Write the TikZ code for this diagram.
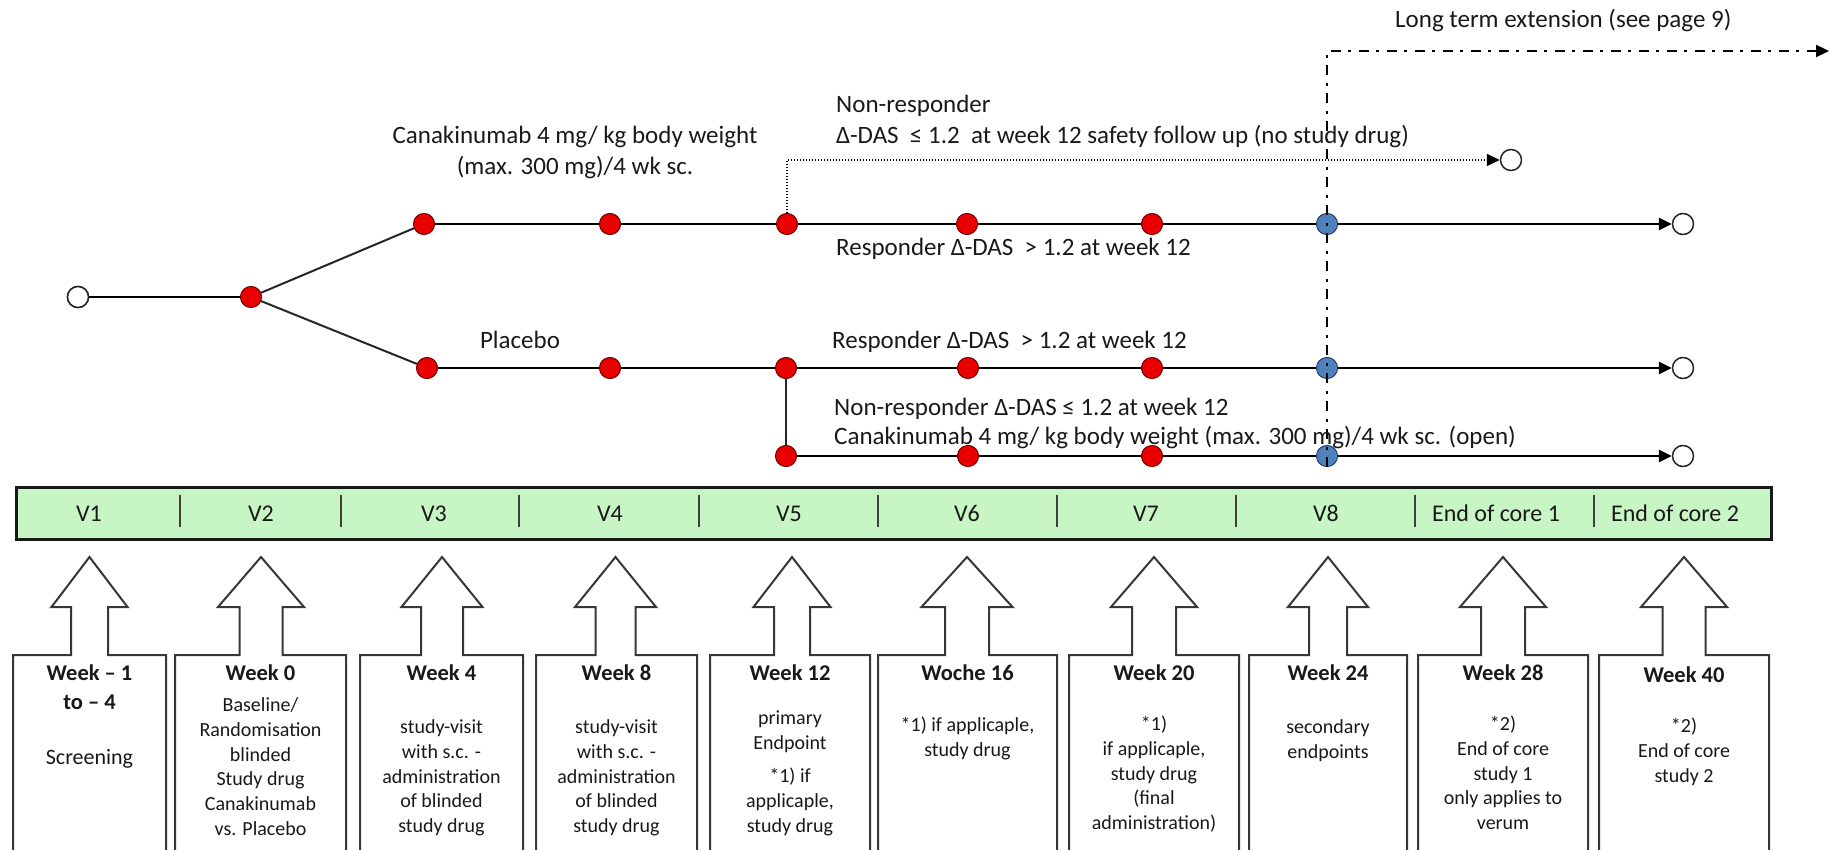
\documentclass[tikz,border=0pt]{standalone}
\usepackage{fontspec}
\setmainfont{Carlito}
\usetikzlibrary{arrows.meta}
\definecolor{barg}{RGB}{200,245,196}
\definecolor{dotred}{RGB}{232,0,0}
\definecolor{dotredd}{RGB}{110,0,0}
\definecolor{dotblue}{RGB}{79,129,189}
\definecolor{dotblued}{RGB}{35,60,100}
\definecolor{txt}{RGB}{25,25,25}
\definecolor{edge}{RGB}{55,55,55}
\newcommand\vbarrow[5]{%
  \draw[boxedge] (#1,853) -- (#1,655) -- ({#3-#5},655) -- ({#3-#5},607) -- ({#3-#4},607)
    -- (#3,557) -- ({#3+#4},607) -- ({#3+#5},607) -- ({#3+#5},655) -- (#2,655) -- (#2,853);}
\begin{document}
\begin{tikzpicture}[x=1pt,y=-1pt,
  rdot/.style={circle,draw=dotredd,fill=dotred,line width=0.8pt,minimum size=21pt,inner sep=0pt},
  bdot/.style={circle,draw=dotblued,fill=dotblue,line width=0.8pt,minimum size=21pt,inner sep=0pt},
  odot/.style={circle,draw=black!85,fill=white,line width=1.5pt,minimum size=21pt,inner sep=0pt},
  mainln/.style={draw=black,line width=2.9pt},
  slimln/.style={draw=black!85,line width=2pt},
  arr/.style={-{Triangle[length=13pt,width=12pt]}},
  dotln/.style={draw=black,line width=2pt,dash pattern=on 1.5pt off 1.5pt},
  ddln/.style={draw=black,line width=2.2pt,dash pattern=on 10pt off 7pt on 3pt off 8pt},
  lbl/.style={font=\fontsize{25}{31}\selectfont,text=txt,inner sep=0pt},
  barlbl/.style={font=\fontsize{24}{29}\selectfont,text=txt,inner sep=0pt,anchor=base},
  hd/.style={font=\bfseries\fontsize{22.5}{29}\selectfont,text=txt,inner sep=0pt,anchor=base},
  bd/.style={font=\fontsize{20}{24.7}\selectfont,text=txt,inner sep=0pt,anchor=north,align=center},
  boxedge/.style={draw=edge,line width=2pt,fill=white,line join=miter},
  divln/.style={draw=black!75,line width=1.3pt}
]
\useasboundingbox (0,0) rectangle (1830,850);

% ---------- upper flow ----------
\node[odot] (s0) at (78,297) {};
\node[rdot] (r0) at (251,297) {};
\foreach \n/\x in {t1/424,t2/610,t3/787,t4/967,t5/1152}{\node[rdot] (\n) at (\x,224) {};}
\node[bdot] (tb) at (1327,224) {};
\node[odot] (te) at (1683,224) {};
\foreach \n/\x in {p1/427,p2/610,p3/786,p4/968,p5/1152}{\node[rdot] (\n) at (\x,368) {};}
\node[bdot] (pb) at (1327,368) {};
\node[odot] (pe) at (1683,368) {};
\foreach \n/\x in {q3/786,q4/968,q5/1152}{\node[rdot] (\n) at (\x,456) {};}
\node[bdot] (qb) at (1327,456) {};
\node[odot] (qe) at (1683,456) {};
\node[odot] (de) at (1511,160) {};
\coordinate (ltc) at (1327,51);
\coordinate (lte) at (1829,51);

% lines (drawn, then dots redrawn on top)
\draw[mainln] (s0) -- (r0);
\draw[slimln] (r0) -- (t1);
\draw[slimln] (r0) -- (p1);
\draw[mainln] (t1) -- (t2) -- (t3) -- (t4) -- (t5) -- (tb);
\draw[mainln,arr] (tb) -- (te);
\draw[mainln] (p1) -- (p2) -- (p3) -- (p4) -- (p5) -- (pb);
\draw[mainln,arr] (pb) -- (pe);
\draw[slimln] (p3) -- (q3);
\draw[mainln] (q3) -- (q4) -- (q5) -- (qb);
\draw[mainln,arr] (qb) -- (qe);
\draw[dotln,arr] (t3.north) |- (de);

% redraw dots on top
\node[odot] at (s0) {};
\node[rdot] at (r0) {};
\foreach \n in {t1,t2,t3,t4,t5,p1,p2,p3,p4,p5,q3,q4,q5}{\node[rdot] at (\n) {};}
\foreach \n in {tb,pb,qb}{\node[bdot] at (\n) {};}

\draw[ddln,arr] (qb.south) -- (ltc) -- (lte);

% labels
\node[lbl,anchor=base west] (lt) at (1395,28) {Long term extension (see page 9)};
\node[lbl,anchor=base west] (nr1) at (836,113) {Non-responder};
\node[lbl,anchor=base west] (nr2) at (836,144) {Δ-DAS\ \ ≤ 1.2\ \ at week 12 safety follow up (no study drug)};
\node[lbl,anchor=base] (ca1) at (575,144) {Canakinumab 4 mg/ kg body weight};
\node[lbl,anchor=base] (ca2) at (575,175) {(max. 300 mg)/4 wk sc.};
\node[lbl,anchor=base west] (rs1) at (836,256) {Responder Δ-DAS\ \ > 1.2 at week 12};
\node[lbl,anchor=base] (pl) at (520,348) {Placebo};
\node[lbl,anchor=base west] (rs2) at (832,348) {Responder Δ-DAS\ \ > 1.2 at week 12};
\node[lbl,anchor=base west] (nr3) at (834,415) {Non-responder Δ-DAS ≤ 1.2 at week 12};
\node[lbl,anchor=base west] (ca3) at (834,444) {Canakinumab 4 mg/ kg body weight (max. 300 mg)/4 wk sc. (open)};

% ---------- visit bar ----------
\draw[line width=3pt,draw=black!90,fill=barg] (16,487) rectangle (1771,539);
\foreach \x in {180,341,519,699,878,1057,1236,1415,1594}{\draw[divln] (\x,495) -- (\x,527);}
\foreach \n/\x/\t in {v1/89/V1,v2/261/V2,v3/434/V3,v4/610/V4,v5/789/V5,v6/967/V6,v7/1146/V7,v8/1326/V8,v9/1496/End of core 1,v10/1675/End of core 2}{
  \node[barlbl] (\n) at (\x,521) {\t};}

% ---------- arrows + boxes ----------
\vbarrow{13}{166}{89.5}{38}{18.5}
\vbarrow{175}{346}{261}{43}{21.5}
\vbarrow{360}{523}{442}{40.5}{21}
\vbarrow{536}{697}{615.5}{40.5}{20}
\vbarrow{710}{870}{792}{38.5}{18}
\vbarrow{878}{1057}{967}{45.5}{22}
\vbarrow{1069}{1239}{1154}{43}{22}
\vbarrow{1249}{1407}{1328}{40}{19}
\vbarrow{1418}{1588}{1503}{43}{22}
\vbarrow{1599}{1769}{1684}{43}{21.5}

% box texts
\node[hd] (h1) at (89.5,680) {Week – 1};
\node[hd] (h1b) at (89.5,709) {to – 4};
\node[text=txt,inner sep=0pt,anchor=base,font=\fontsize{22}{27}\selectfont] (b1) at (89.5,764) {Screening};

\node[hd] (h2) at (260.5,680) {Week 0};
\node[bd] (b2) at (260.5,694.3) {\strut Baseline/\\Randomisation\\blinded\\Study drug\\Canakinumab\\vs. Placebo};

\node[hd] (h3) at (441.5,680) {Week 4};
\node[bd] (b3) at (441.5,716.3) {\strut study-visit\\with s.c. -\\administration\\of blinded\\study drug};

\node[hd] (h4) at (616.5,680) {Week 8};
\node[bd] (b4) at (616.5,716.3) {\strut study-visit\\with s.c. -\\administration\\of blinded\\study drug};

\node[hd] (h5) at (790,680) {Week 12};
\node[bd] (b5) at (790,707.3) {\strut primary\\Endpoint};
\node[bd] (b5b) at (790,765.3) {\strut *1) if\\applicaple,\\study drug};

\node[hd] (h6) at (967.5,680) {Woche 16};
\node[bd] (b6) at (967.5,714.3) {\strut *1) if applicaple,\\study drug};

\node[hd] (h7) at (1154,680) {Week 20};
\node[bd] (b7) at (1154,713.3) {\strut *1)\\if applicaple,\\study drug\\(final\\administration)};

\node[hd] (h8) at (1328,680) {Week 24};
\node[bd] (b8) at (1328,716.3) {\strut secondary\\endpoints};

\node[hd] (h9) at (1503,680) {Week 28};
\node[bd] (b9) at (1503,713.3) {\strut *2)\\End of core\\study 1\\only applies to\\verum};

\node[hd] (h10) at (1684,682) {Week 40};
\node[bd] (b10) at (1684,715.3) {\strut *2)\\End of core\\study 2};
\end{tikzpicture}
\end{document}
